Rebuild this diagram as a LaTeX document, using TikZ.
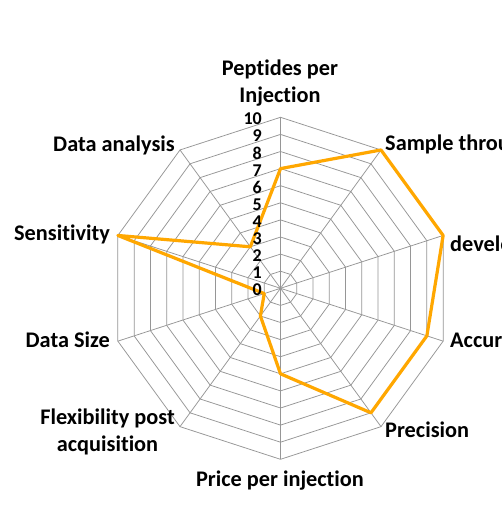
\documentclass[tikz,border=0pt]{standalone}
\usepackage{fontspec}
\setmainfont[Ligatures=NoCommon]{Carlito}
\definecolor{gridgray}{RGB}{150,150,150}
\definecolor{chartorange}{RGB}{255,167,0}
\begin{document}
\begin{tikzpicture}[x=1pt,y=-1pt,
  gridline/.style={draw=gridgray, line width=0.75pt},
  dataline/.style={draw=chartorange, line width=3.2pt, line join=round},
  axislabel/.style={font=\fontsize{22.3}{27}\selectfont\bfseries, inner sep=0pt},
  ticklabel/.style={font=\fontsize{18}{20}\selectfont\bfseries, inner sep=0pt, anchor=base east}]
\useasboundingbox (0,0) rectangle (502,512);
\fill[white] (0,0) rectangle (502,512);
\def\cx{280.5}
\def\cy{288.3}
\def\st{17.1}
% grid rings
\foreach \k in {1,...,10}{
  \draw[gridline] plot[samples at={90,54,18,-18,-54,-90,-126,-162,-198,-234}]
    ({\cx+\st*\k*cos(\x)},{\cy-\st*\k*sin(\x)}) -- cycle;
}
% spokes
\coordinate (O) at (\cx,\cy);
\foreach \a [count=\i from 0] in {90,54,18,-18,-54,-90,-126,-162,-198,-234}{
  \coordinate (s\i) at ({\cx+\st*10*cos(\a)},{\cy-\st*10*sin(\a)});
  \draw[gridline] (O) -- (s\i);
}
% data
\foreach \a/\v [count=\i from 0] in {90/7,54/10,18/10,-18/9,-54/9,-90/5,-126/2,-162/1,-198/10,-234/3}{
  \coordinate (d\i) at ({\cx+\st*\v*cos(\a)},{\cy-\st*\v*sin(\a)});
}
\draw[dataline] (d0) -- (d1) -- (d2) -- (d3) -- (d4) -- (d5) -- (d6) -- (d7) -- (d8) -- (d9) -- cycle;
% tick labels
\foreach \k in {0,...,10}{
  \node[ticklabel] (t\k) at (262,{\cy-\st*\k+7.5}) {\k};
}
% axis labels
\node[axislabel, anchor=base] (l0a) at (280,75) {Peptides per};
\node[axislabel, anchor=base] (l0b) at (280,102.3) {Injection};
\node[axislabel, anchor=base west] (l1) at (385,150) {Sample throughput};
\node[axislabel, anchor=base west] (l2) at (450,251.7) {development};
\node[axislabel, anchor=base west] (l3) at (450,347.7) {Accuracy};
\node[axislabel, anchor=base west] (l4) at (385,437.7) {Precision};
\node[axislabel, anchor=base] (l5) at (280,486) {Price per injection};
\node[axislabel, anchor=base] (l6a) at (107.5,424) {Flexibility post};
\node[axislabel, anchor=base] (l6b) at (107.5,451) {acquisition};
\node[axislabel, anchor=base east] (l7) at (110,347.7) {Data Size};
\node[axislabel, anchor=base east] (l8) at (110,240) {Sensitivity};
\node[axislabel, anchor=base east] (l9) at (175,151) {Data analysis};
\end{tikzpicture}
\end{document}
